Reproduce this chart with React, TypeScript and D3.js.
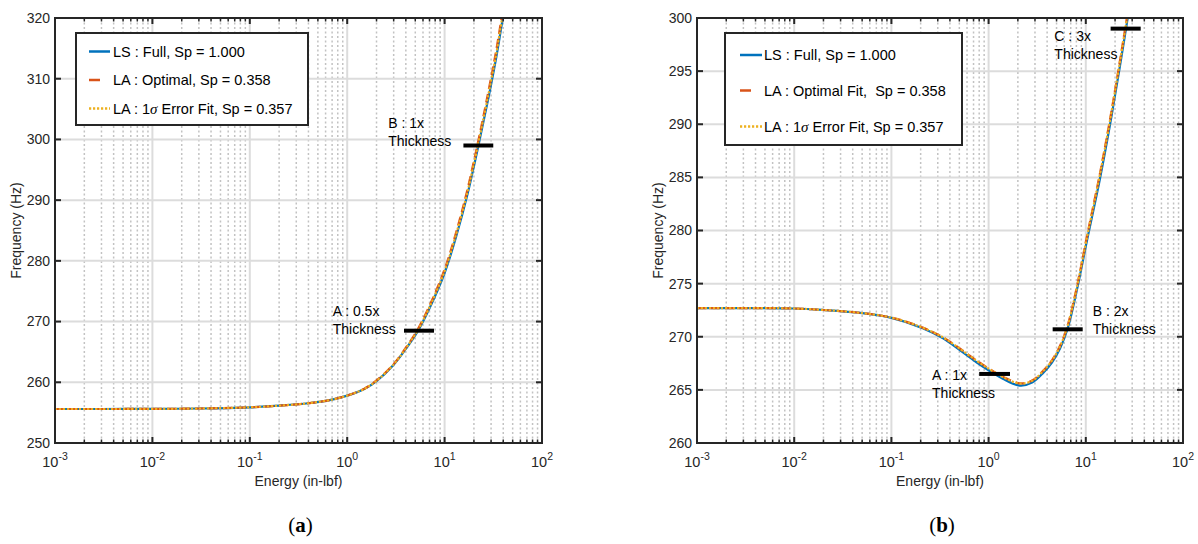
import React from 'react';
import * as d3 from 'd3';

// ---------- Data: panel (a) ----------
const energyA = [0.001, 0.003, 0.01, 0.03, 0.1, 0.2, 0.4, 0.7, 1, 1.5, 2, 3, 4, 5.25, 7, 10, 13.3, 16.9, 22.2, 28, 34, 40];
const lsA = [255.6, 255.6, 255.62, 255.68, 255.88, 256.15, 256.55, 257.15, 257.8, 258.9, 260.2, 262.9, 265.5, 268.3, 272.2, 278.0, 284.3, 290.5, 298.9, 306.6, 313.6, 320.5];
const laA = [255.6, 255.6, 255.62, 255.68, 255.88, 256.15, 256.55, 257.15, 257.8, 258.95, 260.3, 263.0, 265.7, 268.6, 272.6, 278.6, 285.0, 291.3, 299.8, 307.7, 314.8, 321.8];
const sigA = [255.6, 255.6, 255.62, 255.68, 255.88, 256.15, 256.55, 257.15, 257.8, 258.92, 260.25, 262.95, 265.6, 268.45, 272.4, 278.3, 284.7, 290.9, 299.4, 307.2, 314.2, 321.2];
const yTicksA = [250, 260, 270, 280, 290, 300, 310, 320];
const legendA = ['LS : Full, Sp = 1.000', 'LA : Optimal, Sp = 0.358', 'LA : 1σ Error Fit, Sp = 0.357'];
// thickness markers: [energy from, energy to, frequency]
const barsA = [
  [3.83, 7.78, 268.5],
  [15.6, 31.6, 299.0],
];
// marker labels: [label, energy, frequency]
const labelsA: [string, number, number][] = [
  ['A : 0.5x', 0.71, 270.9],
  ['B : 1x', 2.64, 301.9],
];

// ---------- Data: panel (b) ----------
const energyB = [0.001, 0.003, 0.01, 0.02, 0.044, 0.1, 0.21, 0.34, 0.51, 0.75, 1, 1.4, 2.1, 2.8, 3.66, 4.5, 5.43, 6.5, 8.05, 10.2, 14, 17.7, 22.1, 28.1, 33];
const lsB = [272.7, 272.7, 272.66, 272.52, 272.28, 271.78, 270.81, 269.85, 268.72, 267.6, 266.85, 266.05, 265.4, 265.68, 266.62, 267.6, 268.9, 270.75, 274.3, 278.9, 284.9, 289.9, 295.1, 301.0, 305.0];
const laB = [272.7, 272.7, 272.66, 272.52, 272.28, 271.8, 270.86, 269.95, 268.87, 267.77, 267.02, 266.24, 265.62, 265.88, 266.82, 267.8, 269.15, 271.05, 274.6, 279.3, 285.4, 290.4, 295.6, 301.5, 305.5];
const sigB = [272.7, 272.7, 272.66, 272.52, 272.28, 271.8, 270.85, 269.94, 268.85, 267.75, 267.0, 266.21, 265.6, 265.85, 266.79, 267.77, 269.1, 271.0, 274.55, 279.2, 285.3, 290.3, 295.5, 301.4, 305.4];
const yTicksB = [260, 265, 270, 275, 280, 285, 290, 295, 300];
const legendB = ['LS : Full, Sp = 1.000', 'LA : Optimal Fit,  Sp = 0.358', 'LA : 1σ Error Fit, Sp = 0.357'];
const barsB = [
  [0.8, 1.66, 266.5],
  [4.56, 9.29, 270.7],
  [18.0, 36.7, 299.0],
];
const labelsB: [string, number, number][] = [
  ['A : 1x', 0.262, 265.93],
  ['B : 2x', 11.78, 271.95],
  ['C : 3x', 4.75, 297.84],
];

const xDecades = [-3, -2, -1, 0, 1, 2];

const FONT = "'Liberation Sans', Arial, Helvetica, sans-serif";
const TXT = '#262626';
const BLUE = '#0072BD';
const ORANGE = '#D95319';
const YELLOW = '#EDB120';

function LegendText({ x, y, text }: { x: number; y: number; text: string }) {
  const parts = text.split('σ');
  return (
    <text x={x} y={y} fontSize={14.5} fill="#000" fontFamily={FONT} style={{ whiteSpace: 'pre' }}>
      {parts[0]}
      {parts.length > 1 && (
        <>
          <tspan fontFamily="'Liberation Serif', 'DejaVu Serif', serif" fontStyle="italic" fontSize={15}>σ</tspan>
          {parts[1]}
        </>
      )}
    </text>
  );
}

type PanelProps = {
  id: string;
  x0: number;
  x1: number;
  yDomain: [number, number];
  yTicks: number[];
  energy: number[];
  ls: number[];
  la: number[];
  sig: number[];
  bars: number[][];
  labels: [string, number, number][];
  legend: string[];
  legendBox: { x: number; y: number; w: number; h: number; rows: number[]; sx: number; sLen: number; tx: number };
  caption: string;
};

function Panel(p: PanelProps) {
  const top = 18;
  const bottom = 443;
  const x = d3.scaleLog().domain([1e-3, 1e2]).range([p.x0, p.x1]);
  const y = d3.scaleLinear().domain(p.yDomain).range([bottom, top]);
  const mk = (vals: number[]) => {
    const pts: [number, number][] = p.energy.map((e, i) => [e, vals[i]]);
    return d3
      .line<[number, number]>()
      .x((d) => x(d[0]))
      .y((d) => y(d[1]))
      .curve(d3.curveCatmullRom.alpha(0.5))(pts) as string;
  };
  const minors: number[] = [];
  xDecades.slice(0, -1).forEach((d) => {
    for (let k = 2; k <= 9; k++) minors.push(k * Math.pow(10, d));
  });
  const majors = xDecades.map((d) => Math.pow(10, d));
  const cx = (p.x0 + p.x1) / 2;
  const cy = (top + bottom) / 2;
  const lb = p.legendBox;
  return (
    <g>
      <defs>
        <clipPath id={'clip' + p.id}>
          <rect x={p.x0} y={top} width={p.x1 - p.x0} height={bottom - top} />
        </clipPath>
      </defs>
      {/* minor grid */}
      {minors.map((m, i) => (
        <line key={'mg' + i} x1={x(m)} x2={x(m)} y1={top} y2={bottom} stroke="#c2c2c2" strokeWidth={1.5} strokeDasharray="2,2.5" />
      ))}
      {/* major grid */}
      {majors.map((m, i) => (
        <line key={'Mg' + i} x1={x(m)} x2={x(m)} y1={top} y2={bottom} stroke="#dcdcdc" strokeWidth={2} />
      ))}
      {p.yTicks.map((t, i) => (
        <line key={'yg' + i} x1={p.x0} x2={p.x1} y1={y(t)} y2={y(t)} stroke="#dcdcdc" strokeWidth={2} />
      ))}
      {/* curves */}
      <g clipPath={`url(#clip${p.id})`}>
        <path d={mk(p.ls)} fill="none" stroke={BLUE} strokeWidth={2.2} />
        <path d={mk(p.la)} fill="none" stroke={ORANGE} strokeWidth={2.2} strokeDasharray="9,5" />
        <path d={mk(p.sig)} fill="none" stroke={YELLOW} strokeWidth={2.2} strokeDasharray="2.2,1.8" />
      </g>
      {/* thickness markers */}
      {p.bars.map((b, i) => (
        <line key={'b' + i} x1={x(b[0])} x2={x(b[1])} y1={y(b[2])} y2={y(b[2])} stroke="#000" strokeWidth={4} />
      ))}
      {p.labels.map((l, i) => (
        <text key={'l' + i} x={x(l[1])} y={y(l[2])} fontSize={14} fontFamily={FONT} fill="#000">
          <tspan x={x(l[1])}>{l[0]}</tspan>
          <tspan x={x(l[1])} dy={18}>Thickness</tspan>
        </text>
      ))}
      {/* ticks */}
      {minors.map((m, i) => (
        <g key={'mt' + i}>
          <line x1={x(m)} x2={x(m)} y1={bottom} y2={bottom - 3.5} stroke={TXT} strokeWidth={1.5} />
          <line x1={x(m)} x2={x(m)} y1={top} y2={top + 3.5} stroke={TXT} strokeWidth={1.5} />
        </g>
      ))}
      {majors.map((m, i) => (
        <g key={'Mt' + i}>
          <line x1={x(m)} x2={x(m)} y1={bottom} y2={bottom - 6} stroke={TXT} strokeWidth={2} />
          <line x1={x(m)} x2={x(m)} y1={top} y2={top + 6} stroke={TXT} strokeWidth={2} />
          <text x={x(m)} y={467} textAnchor="middle" fontSize={14.5} fontFamily={FONT} fill={TXT}>
            10<tspan dy={-7} fontSize={10.5}>{String(xDecades[i])}</tspan>
          </text>
        </g>
      ))}
      {p.yTicks.map((t, i) => (
        <g key={'yt' + i}>
          <line x1={p.x0} x2={p.x0 + 6} y1={y(t)} y2={y(t)} stroke={TXT} strokeWidth={2} />
          <line x1={p.x1} x2={p.x1 - 6} y1={y(t)} y2={y(t)} stroke={TXT} strokeWidth={2} />
          <text x={p.x0 - 5} y={y(t)} dy="0.35em" textAnchor="end" fontSize={14} fontFamily={FONT} fill={TXT}>
            {t}
          </text>
        </g>
      ))}
      {/* frame */}
      <rect x={p.x0} y={top} width={p.x1 - p.x0} height={bottom - top} fill="none" stroke={TXT} strokeWidth={2} />
      {/* axis labels */}
      <text x={cx} y={486} textAnchor="middle" fontSize={14} fontFamily={FONT} fill={TXT}>
        Energy (in-lbf)
      </text>
      <text
        transform={`translate(${p.x0 - 34},${cy}) rotate(-90)`}
        textAnchor="middle"
        fontSize={14}
        fontFamily={FONT}
        fill={TXT}
      >
        Frequency (Hz)
      </text>
      {/* legend */}
      <rect x={lb.x} y={lb.y} width={lb.w} height={lb.h} fill="#fff" stroke={TXT} strokeWidth={2} />
      <line x1={lb.sx} x2={lb.sx + lb.sLen} y1={lb.rows[0] - 5} y2={lb.rows[0] - 5} stroke={BLUE} strokeWidth={2.5} />
      <line x1={lb.sx} x2={lb.sx + 11} y1={lb.rows[1] - 5} y2={lb.rows[1] - 5} stroke={ORANGE} strokeWidth={2.5} />
      <line x1={lb.sx} x2={lb.sx + lb.sLen} y1={lb.rows[2] - 5} y2={lb.rows[2] - 5} stroke={YELLOW} strokeWidth={2.5} strokeDasharray="2.2,1.8" />
      {p.legend.map((s, i) => (
        <LegendText key={'lg' + i} x={lb.tx} y={lb.rows[i]} text={s} />
      ))}
      {/* caption */}
      <text x={cx + 2} y={532} textAnchor="middle" fontSize={21} fontFamily="'Liberation Serif', 'DejaVu Serif', serif" fill="#000">
        (<tspan fontWeight="bold">{p.caption}</tspan>)
      </text>
    </g>
  );
}

export default function App() {
  return (
    <div style={{ position: 'absolute', left: 0, top: 0 }}>
      <svg width={1198} height={544} viewBox="0 0 1198 544" style={{ display: 'block', background: '#fff' }}>
        <rect width={1198} height={544} fill="#fff" />
        <Panel
          id="a"
          x0={55}
          x1={542}
          yDomain={[250, 320]}
          yTicks={yTicksA}
          energy={energyA}
          ls={lsA}
          la={laA}
          sig={sigA}
          bars={barsA}
          labels={labelsA}
          legend={legendA}
          legendBox={{ x: 76, y: 33, w: 232, h: 92, rows: [56.5, 85, 113.5], sx: 89, sLen: 21, tx: 113 }}
          caption="a"
        />
        <Panel
          id="b"
          x0={697}
          x1={1183}
          yDomain={[260, 300]}
          yTicks={yTicksB}
          energy={energyB}
          ls={lsB}
          la={laB}
          sig={sigB}
          bars={barsB}
          labels={labelsB}
          legend={legendB}
          legendBox={{ x: 725, y: 33, w: 237, h: 112, rows: [60, 95.5, 131.5], sx: 740, sLen: 22, tx: 764 }}
          caption="b"
        />
      </svg>
    </div>
  );
}
